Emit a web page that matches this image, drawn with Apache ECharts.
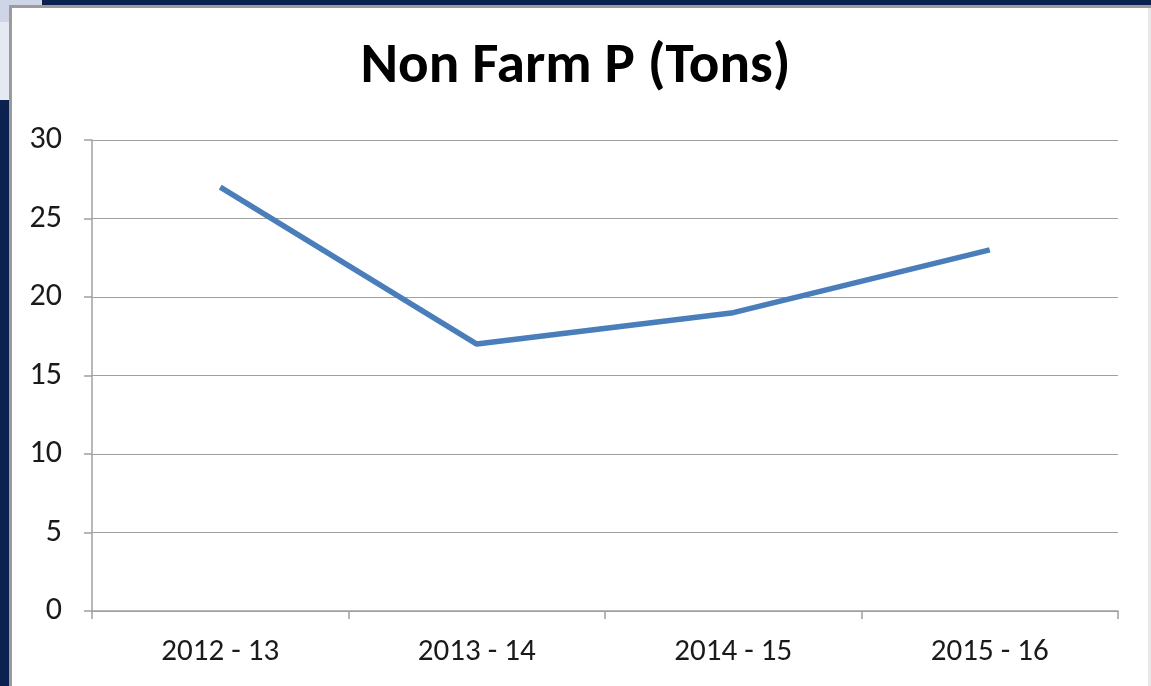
<!DOCTYPE html>
<html>
<head>
<meta charset="utf-8">
<script src="https://cdn.jsdelivr.net/npm/echarts@6/dist/echarts.min.js"></script>
<style>
  html, body { margin: 0; padding: 0; background: #0b2150; }
  #chart { width: 1151px; height: 686px; }
</style>
</head>
<body>
<div id="chart"></div>
<script>
// data
const years = ['2012 - 13', '2013 - 14', '2014 - 15', '2015 - 16'];
const nonFarmP = [27, 17, 19, 23];
const yMin = 0, yMax = 30, yStep = 5;

const myChart = echarts.init(document.getElementById('chart'));

const font = 'Carlito, "Open Sans", "Liberation Sans", sans-serif';

const option = {
  backgroundColor: '#0b2150',
  animation: false,
  graphic: [
    // bits of the slide behind the chart
    { type: 'rect', shape: { x: 0, y: 0, width: 42, height: 22 }, style: { fill: '#cdd5e6' }, z: -10 },
    { type: 'rect', shape: { x: 0, y: 22, width: 10, height: 78 }, style: { fill: '#e4e9f2' }, z: -10 },
    // chart frame
    { type: 'rect', shape: { x: 9, y: 5, width: 1142, height: 681 }, style: { fill: '#9b9b9b' }, z: -9 },
    { type: 'rect', shape: { x: 12, y: 8, width: 1136, height: 678 }, style: { fill: '#ffffff' }, z: -8 },
    { type: 'rect', shape: { x: 1148, y: 8, width: 3, height: 678 }, style: { fill: '#e8e8e8' }, z: -8 }
  ],
  title: {
    text: 'Non Farm P (Tons)',
    left: 'center',
    top: 34,
    textStyle: { fontFamily: font, fontWeight: 'bold', fontSize: 57, color: '#000' }
  },
  grid: { left: 92, right: 33, top: 140, bottom: 75 },
  xAxis: {
    type: 'category',
    data: years,
    boundaryGap: true,
    axisLine: { lineStyle: { color: '#a0a0a0', width: 1.5 } },
    axisTick: { show: true, length: 8, interval: 0, lineStyle: { color: '#a0a0a0', width: 1.5 } },
    axisLabel: { margin: 26, fontFamily: font, fontSize: 31, color: '#1a1a1a' }
  },
  yAxis: {
    type: 'value',
    min: yMin,
    max: yMax,
    interval: yStep,
    axisLine: { show: true, lineStyle: { color: '#a0a0a0', width: 1.5 } },
    axisTick: { show: true, length: 8, inside: false, lineStyle: { color: '#a0a0a0', width: 1.5 } },
    axisLabel: { margin: 30, fontFamily: font, fontSize: 32, color: '#1a1a1a' },
    splitLine: { lineStyle: { color: '#a0a0a0', width: 1.2 } }
  },
  series: [{
    type: 'line',
    data: nonFarmP,
    symbol: 'none',
    lineStyle: { color: '#4a7ebb', width: 5.5 }
  }]
};

myChart.setOption(option);
</script>
</body>
</html>
